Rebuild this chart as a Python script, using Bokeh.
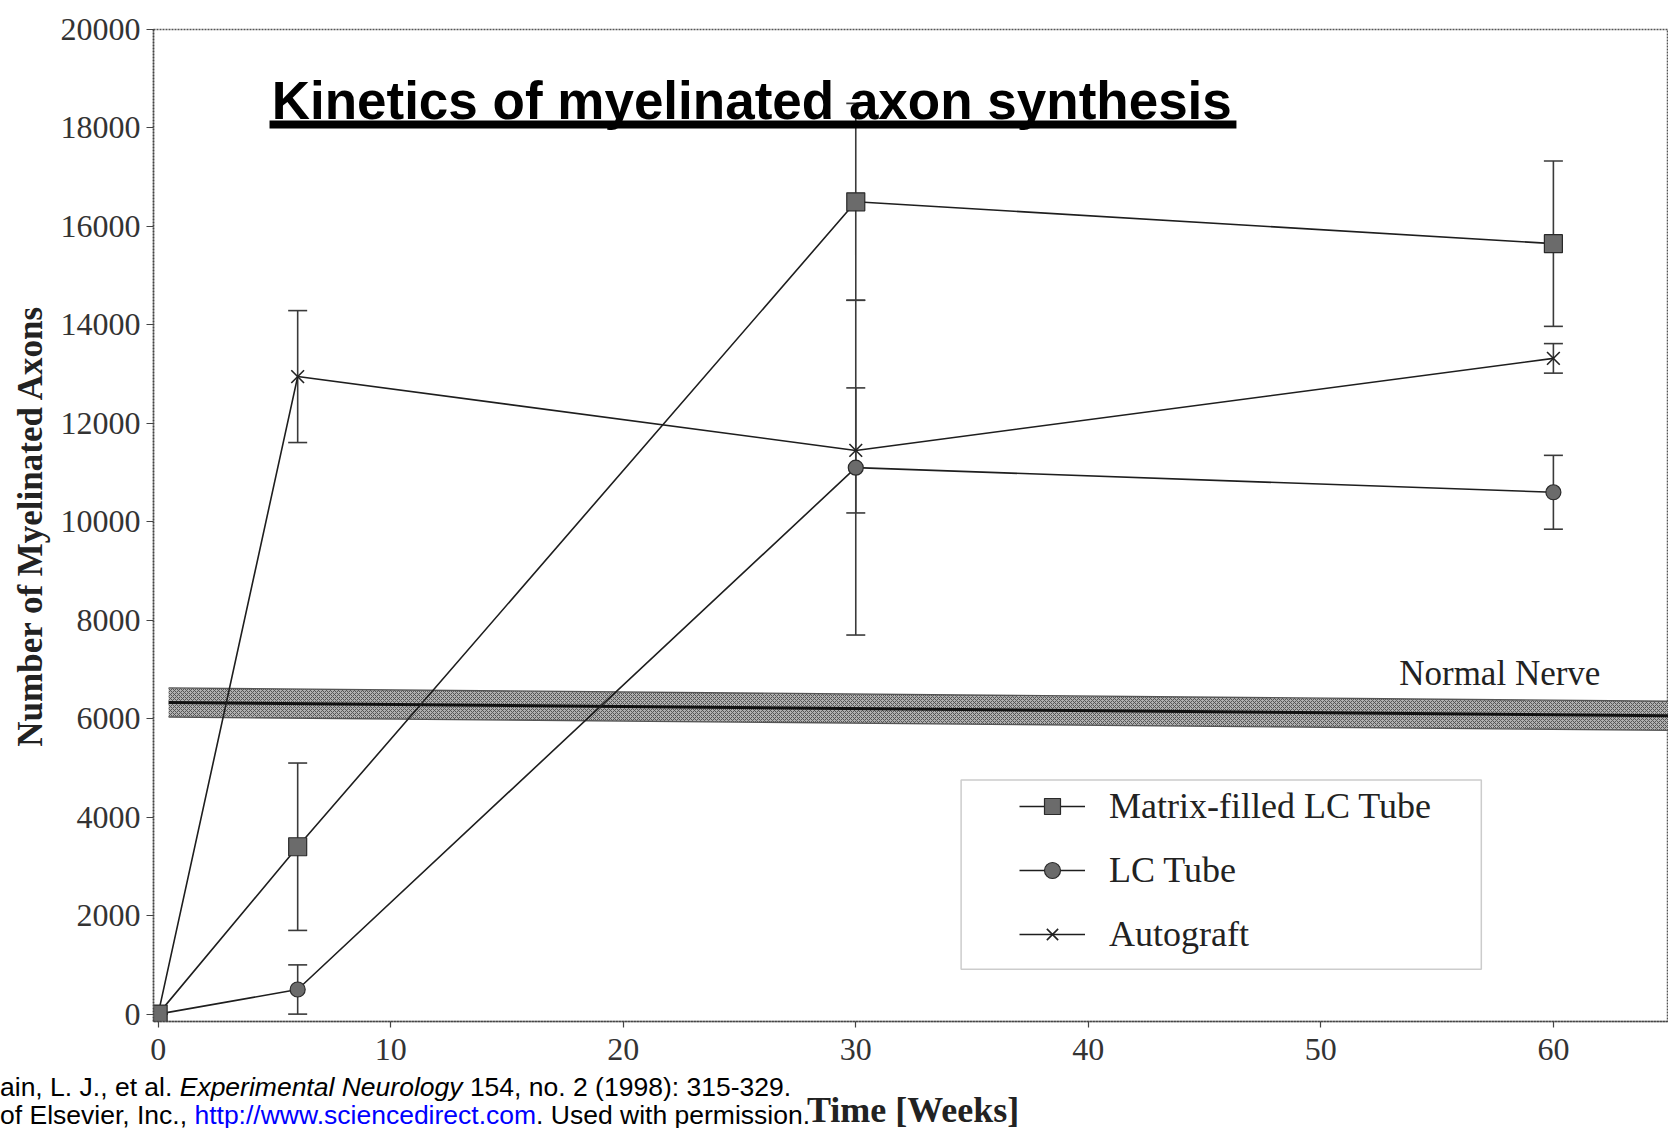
from bokeh.plotting import figure
from bokeh.layouts import column
from bokeh.models import (ColumnDataSource, Whisker, TeeHead, Label, BoxAnnotation,
                          Legend, LegendItem, FixedTicker, Div)
from bokeh.embed import file_html
from bokeh.resources import INLINE

# ---------------- data ----------------
weeks = [0, 6, 30, 60]
matrix_vals = [0, 3400, 16500, 15650]
matrix_err = [0, 1700, 2000, 1680]
lc_vals = [0, 500, 11100, 10600]
lc_err = [0, 500, 3400, 750]
auto_vals = [0, 12950, 11450, 13320]
auto_err = [0, 1340, 1270, 300]

normal_x = [0.45, 64.95]
normal_y = [6330, 6060]
normal_half_band = 295

x_ticks = [0, 10, 20, 30, 40, 50, 60]
y_ticks = [0, 2000, 4000, 6000, 8000, 10000, 12000, 14000, 16000, 18000, 20000]

series_names = ["Matrix-filled LC Tube", "LC Tube", "Autograft"]
title_text = "Kinetics of myelinated axon synthesis"
x_label = "Time [Weeks]"
y_label = "Number of Myelinated Axons"
normal_label = "Normal Nerve"
citation_1 = ("ain, L. J., et al. ", "Experimental Neurology", " 154, no. 2 (1998): 315-329.")
citation_2 = ("of Elsevier, Inc., ", "http://www.sciencedirect.com", ". Used with permission.")

SERIF = "Liberation Serif"
SANS = "Liberation Sans"

p = figure(width=1668, height=1076, output_backend="svg", toolbar_location=None,
           x_range=(-0.2, 64.95), y_range=(-150, 20000),
           min_border_left=153, min_border_right=0, min_border_top=29, min_border_bottom=55)
p.background_fill_color = "white"
p.border_fill_color = "white"
p.grid.visible = False
p.outline_line_color = "#555555"
p.outline_line_dash = "2 1"
p.outline_line_width = 1.5

for ax in (p.xaxis[0], p.yaxis[0]):
    ax.axis_line_color = "#444444"
    ax.axis_line_width = 1.5
    ax.axis_line_dash = "2 1"
    ax.major_tick_line_color = "#444444"
    ax.major_tick_line_width = 1.2
    ax.minor_tick_line_color = None
    ax.major_label_text_font = SERIF
    ax.major_label_text_font_size = "32px"
    ax.major_label_text_color = "#333333"
    ax.major_tick_in = 0

p.xaxis.ticker = FixedTicker(ticks=x_ticks)
p.yaxis.ticker = FixedTicker(ticks=y_ticks)
p.xaxis.major_tick_out = 6
p.xaxis.major_label_standoff = 11
p.yaxis.major_tick_out = 7
p.yaxis.major_label_standoff = 6

p.yaxis.axis_label = y_label
p.yaxis.axis_label_text_font = SERIF
p.yaxis.axis_label_text_font_style = "bold"
p.yaxis.axis_label_text_font_size = "35px"
p.yaxis.axis_label_text_color = "#222222"
p.yaxis.axis_label_standoff = 8

# ---------------- normal nerve band ----------------
band = ColumnDataSource(dict(x=normal_x,
                             lo=[v - normal_half_band for v in normal_y],
                             hi=[v + normal_half_band for v in normal_y],
                             mid=normal_y))
p.varea(x="x", y1="lo", y2="hi", source=band, fill_color="#b0b0b0",
        hatch_pattern="diagonal_cross", hatch_color="#555555", hatch_scale=4, hatch_weight=1)
p.line(x="x", y="lo", source=band, line_color="#555555", line_width=1.3)
p.line(x="x", y="hi", source=band, line_color="#555555", line_width=1.3)
p.line(x="x", y="mid", source=band, line_color="#111111", line_width=3)

# ---------------- series ----------------
def add_series(vals, errs, marker, size, fill):
    src = ColumnDataSource(dict(x=weeks, y=vals,
                                up=[v + e for v, e in zip(vals, errs)],
                                lo=[v - e for v, e in zip(vals, errs)]))
    wh = Whisker(base="x", upper="up", lower="lo", source=src,
                 line_color="#3a3a3a", line_width=1.6,
                 upper_head=TeeHead(size=19, line_color="#3a3a3a", line_width=1.6),
                 lower_head=TeeHead(size=19, line_color="#3a3a3a", line_width=1.6))
    p.add_layout(wh)
    ln = p.line(x="x", y="y", source=src, line_color="#1e1e1e", line_width=1.6)
    if marker == "x":
        mk = p.scatter(x="x", y="y", source=src, marker="x", size=size,
                       line_color="#222222", line_width=1.6)
    else:
        mk = p.scatter(x="x", y="y", source=src, marker=marker, size=size,
                       fill_color=fill, line_color="#2a2a2a", line_width=1.2)
    return [ln, mk]

r_auto = add_series(auto_vals, auto_err, "x", 18, None)
r_lc = add_series(lc_vals, lc_err, "circle", 15, "#6b6b6b")
r_matrix = add_series(matrix_vals, matrix_err, "square", 18, "#6b6b6b")

# ---------------- legend ----------------
p.add_layout(BoxAnnotation(left=34.53, right=56.9, bottom=913, top=4754,
                           fill_color="white", fill_alpha=1.0,
                           line_color="#555555", line_width=1.5))
legend = Legend(items=[LegendItem(label=series_names[0], renderers=r_matrix),
                       LegendItem(label=series_names[1], renderers=r_lc),
                       LegendItem(label=series_names[2], renderers=r_auto)],
                location=(866, 66), orientation="vertical",
                glyph_width=66, glyph_height=40, label_height=40, spacing=22,
                label_standoff=24, padding=0, margin=0,
                border_line_color=None, background_fill_alpha=0,
                label_text_font=SERIF, label_text_font_size="36px",
                label_text_color="#222222")
p.add_layout(legend)

# ---------------- texts in the plot ----------------
p.add_layout(Label(x=53.37, y=6919, text=normal_label, text_font=SERIF,
                   text_font_size="35px", text_color="#222222",
                   text_baseline="middle", text_align="left"))

p.add_layout(Label(x=4.88, y=18566, text=title_text, text_font=SANS,
                   text_font_style="bold", text_font_size="53px", text_color="black",
                   text_baseline="middle", text_align="left"))
p.add_layout(BoxAnnotation(left=4.79, right=46.37, bottom=17989, top=18151,
                           fill_color="black", fill_alpha=1.0, line_color=None))

# ---------------- citation and x-axis title below the plot ----------------
html = (
    '<div style="position:relative;width:1668px;height:52px;'
    'white-space:nowrap;font-family:\'Liberation Sans\',Arial,sans-serif;'
    'font-size:26.5px;line-height:28px;color:#000;">'
    '<div style="position:absolute;left:0px;top:-3px;">'
    f'{citation_1[0]}<i>{citation_1[1]}</i>{citation_1[2]}</div>'
    '<div style="position:absolute;left:0px;top:25px;">'
    f'{citation_2[0]}<span style="color:#0000ff;">{citation_2[1]}</span>{citation_2[2]}</div>'
    '<div style="position:absolute;left:807px;top:16px;font-family:\'Liberation Serif\',serif;'
    'font-weight:bold;font-size:36px;line-height:36px;color:#222;">'
    f'{x_label}</div>'
    '</div>'
)
div = Div(text=html, width=1668, height=52, margin=(0, 0, 0, 0))

layout = column(p, div, spacing=0, margin=(0, 0, 0, 0))

open("out.html", "w").write(file_html(layout, INLINE))
